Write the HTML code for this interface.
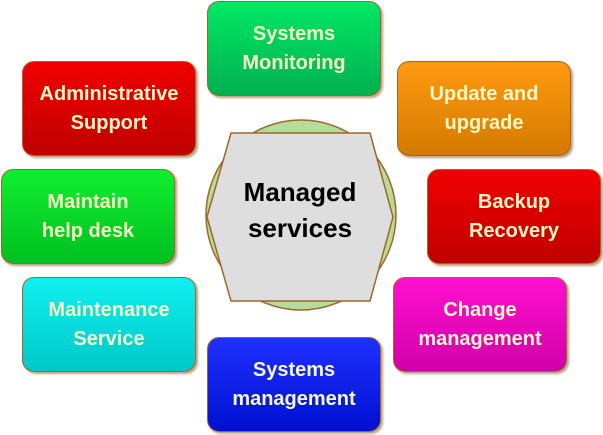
<!DOCTYPE html>
<html><head><style>
body{margin:0;width:603px;height:435px;background:#fff;position:relative;overflow:hidden;font-family:"Liberation Sans",sans-serif;}
.b{position:absolute;width:174px;height:95px;border:1px solid #a0662a;border-radius:12px;box-shadow:2px 2px 2px rgba(140,100,50,.6);display:flex;align-items:center;justify-content:center;text-align:center;color:#f5f7c4;font-weight:bold;font-size:20px;line-height:29px;box-sizing:border-box;}
</style></head><body>
<div class="b" style="left:207px;top:1px;background:linear-gradient(#00e864,#00b050)">Systems<br>Monitoring</div>
<div class="b" style="left:22px;top:61px;background:linear-gradient(#f00000,#c00000)">Administrative<br>Support</div>
<div class="b" style="left:397px;top:61px;background:linear-gradient(#ff9a10,#d47a00)">Update and<br>upgrade</div>
<div class="b" style="left:1px;top:169px;background:linear-gradient(#10ee30,#00c020)">Maintain<br>help desk</div>
<div class="b" style="left:427px;top:169px;background:linear-gradient(#f00000,#c00000)">Backup<br>Recovery</div>
<div class="b" style="left:22px;top:277px;background:linear-gradient(#10f0f0,#00c8c8)">Maintenance<br>Service</div>
<div class="b" style="left:393px;top:277px;background:linear-gradient(#ff10d0,#d000a8)">Change<br>management</div>
<div class="b" style="left:207px;top:337px;background:linear-gradient(#2030ff,#0010d0)">Systems<br>management</div>
<svg style="position:absolute;left:0;top:0" width="603" height="435">
<circle cx="301" cy="215" r="95" fill="#b5dc98" stroke="#a0662a" stroke-width="1.5"/>
<polygon points="231,133 370,133 393,217 370,301 231,301 207,217" fill="#dedede" stroke="#a0662a" stroke-width="1.5"/>
<text x="300" y="201" text-anchor="middle" font-family="Liberation Sans,sans-serif" font-weight="bold" font-size="26" fill="#000">Managed</text>
<text x="300" y="237" text-anchor="middle" font-family="Liberation Sans,sans-serif" font-weight="bold" font-size="26" fill="#000">services</text>
</svg>
</body></html>
